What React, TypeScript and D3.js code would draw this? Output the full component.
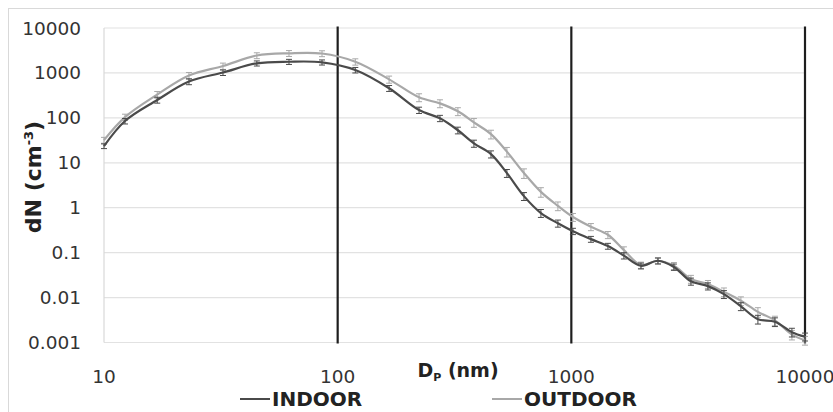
import React, { useEffect, useRef } from 'react';
import * as d3 from 'd3';

// particle diameter (nm)
const diameters = [10, 12.3, 16.9, 23.1, 32.3, 45.1, 61.9, 85.7, 119, 166, 223, 274, 327, 383, 453, 530, 627, 741, 876, 1016, 1213, 1434, 1679, 1986, 2348, 2748, 3250, 3842, 4498, 5317, 6288, 7434, 8790, 10000];

// number concentration dN (cm-3)
const indoor = [23.5, 85, 250, 643, 1020, 1637, 1775, 1722, 1161, 456, 149, 98, 53, 27, 15.6, 5.9, 1.81, 0.76, 0.45, 0.3, 0.2, 0.14, 0.086, 0.051, 0.066, 0.048, 0.023, 0.018, 0.0119, 0.0064, 0.0033, 0.0029, 0.0017, 0.00135];
const outdoor = [32, 104, 330, 875, 1425, 2440, 2735, 2705, 1775, 720, 286, 210, 140, 79, 43.5, 17.7, 5.9, 2.25, 1.1, 0.62, 0.376, 0.25, 0.114, 0.053, 0.066, 0.051, 0.026, 0.02, 0.0134, 0.0085, 0.0048, 0.0031, 0.0015, 0.00112];

// relative error (fraction of value)
const indoorErr = [0.12, 0.14, 0.15, 0.15, 0.14, 0.13, 0.13, 0.13, 0.14, 0.15, 0.16, 0.16, 0.17, 0.18, 0.18, 0.2, 0.2, 0.2, 0.18, 0.16, 0.15, 0.15, 0.16, 0.15, 0.15, 0.16, 0.18, 0.18, 0.2, 0.2, 0.22, 0.22, 0.22, 0.2];
const outdoorErr = [0.15, 0.16, 0.17, 0.17, 0.16, 0.15, 0.15, 0.15, 0.16, 0.18, 0.2, 0.2, 0.2, 0.22, 0.22, 0.24, 0.24, 0.24, 0.22, 0.2, 0.18, 0.18, 0.18, 0.16, 0.16, 0.18, 0.2, 0.2, 0.22, 0.22, 0.24, 0.24, 0.24, 0.22];

const yTicks = [10000, 1000, 100, 10, 1, 0.1, 0.01, 0.001];
const yTickLabels = ['10000', '1000', '100', '10', '1', '0.1', '0.01', '0.001'];
const xTicks = [10, 100, 1000, 10000];
const xTickLabels = ['10', '100', '1000', '10000'];
const markerLines = [100, 1000, 10000];

const seriesNames = ['INDOOR', 'OUTDOOR'];
const seriesColors = ['#4a4a4a', '#a8a8a8'];

export default function App() {
  const chartRef = useRef<SVGSVGElement>(null);

  useEffect(() => {
    const width = 833;
    const height = 412;
    const left = 104;
    const right = 805;
    const top = 28;
    const bottom = 342.5;

    const svg = d3.select(chartRef.current);
    svg.selectAll('*').remove();

    svg.append('rect')
      .attr('width', width)
      .attr('height', height)
      .attr('fill', '#fff');

    // outer chart border (right and bottom fall off the picture)
    svg.append('rect')
      .attr('x', 8.5)
      .attr('y', 8.5)
      .attr('width', 840)
      .attr('height', 420)
      .attr('fill', 'none')
      .attr('stroke', '#d9d9d9');

    const x = d3.scaleLog().domain([10, 10000]).range([left, right]);
    const y = d3.scaleLog().domain([0.001, 10000]).range([bottom, top]);

    // horizontal gridlines
    svg.append('g')
      .selectAll('line')
      .data(yTicks)
      .enter()
      .append('line')
      .attr('x1', left)
      .attr('x2', right)
      .attr('y1', d => y(d))
      .attr('y2', d => y(d))
      .attr('stroke', '#e2e2e2')
      .attr('stroke-width', 1.2);

    // y axis line
    svg.append('line')
      .attr('x1', left)
      .attr('x2', left)
      .attr('y1', top)
      .attr('y2', bottom)
      .attr('stroke', '#d9d9d9')
      .attr('stroke-width', 1.2);

    // y tick labels
    svg.append('g')
      .selectAll('text')
      .data(yTicks)
      .enter()
      .append('text')
      .attr('x', 81)
      .attr('y', d => y(d) + 6.5)
      .attr('text-anchor', 'end')
      .style('font-family', 'DejaVu Sans')
      .style('font-size', '18.5px')
      .attr('fill', '#333')
      .text((d, i) => yTickLabels[i]);

    // x tick labels
    svg.append('g')
      .selectAll('text')
      .data(xTicks)
      .enter()
      .append('text')
      .attr('x', d => x(d))
      .attr('y', 383)
      .attr('text-anchor', 'middle')
      .style('font-family', 'DejaVu Sans')
      .style('font-size', '18.5px')
      .attr('fill', '#333')
      .text((d, i) => xTickLabels[i]);

    // black vertical reference lines
    svg.append('g')
      .selectAll('line')
      .data(markerLines)
      .enter()
      .append('line')
      .attr('x1', d => x(d))
      .attr('x2', d => x(d))
      .attr('y1', top - 1.5)
      .attr('y2', bottom + 1)
      .attr('stroke', '#1e1e1e')
      .attr('stroke-width', 2.2);

    const series = [
      { values: indoor, err: indoorErr },
      { values: outdoor, err: outdoorErr }
    ];

    const line = d3.line<number>()
      .x((d, i) => x(diameters[i]))
      .y(d => y(d))
      .curve(d3.curveCatmullRom.alpha(0.5));

    // draw outdoor first so indoor sits on top
    [1, 0].forEach(s => {
      const { values, err } = series[s];
      const color = seriesColors[s];
      const g = svg.append('g');

      g.append('path')
        .datum(values)
        .attr('d', line)
        .attr('fill', 'none')
        .attr('stroke', color)
        .attr('stroke-width', 2.2);

      const bars = g.selectAll('g.err')
        .data(values)
        .enter()
        .append('g')
        .attr('class', 'err');

      bars.append('line')
        .attr('x1', (d, i) => x(diameters[i]))
        .attr('x2', (d, i) => x(diameters[i]))
        .attr('y1', (d, i) => y(d * (1 + err[i])))
        .attr('y2', (d, i) => y(d * (1 - err[i])))
        .attr('stroke', color)
        .attr('stroke-width', 1);

      [1, -1].forEach(sign => {
        bars.append('line')
          .attr('x1', (d, i) => x(diameters[i]) - 3)
          .attr('x2', (d, i) => x(diameters[i]) + 3)
          .attr('y1', (d, i) => y(d * (1 + sign * err[i])))
          .attr('y2', (d, i) => y(d * (1 + sign * err[i])))
          .attr('stroke', color)
          .attr('stroke-width', 1);
      });
    });

    // x axis title
    const xTitle = svg.append('text')
      .attr('x', 458)
      .attr('y', 377)
      .attr('text-anchor', 'middle')
      .style('font-family', 'DejaVu Sans')
      .style('font-weight', 'bold')
      .style('font-size', '19px')
      .attr('fill', '#222');
    xTitle.append('tspan').text('D');
    xTitle.append('tspan')
      .attr('dy', 4)
      .style('font-size', '11px')
      .text('P');
    xTitle.append('tspan')
      .attr('dy', -4)
      .text(' (nm)');

    // y axis title
    const yTitle = svg.append('text')
      .attr('transform', 'translate(41, 177) rotate(-90)')
      .attr('text-anchor', 'middle')
      .style('font-family', 'DejaVu Sans')
      .style('font-weight', 'bold')
      .style('font-size', '22px')
      .attr('fill', '#222');
    yTitle.append('tspan').text('dN (cm');
    yTitle.append('tspan')
      .attr('dy', -8)
      .style('font-size', '13px')
      .text('-3');
    yTitle.append('tspan')
      .attr('dy', 8)
      .text(')');

    // legend
    const legendX = [240, 492];
    const legend = svg.selectAll('.legend')
      .data(seriesNames)
      .enter()
      .append('g')
      .attr('class', 'legend')
      .attr('transform', (d, i) => `translate(${legendX[i]}, 399)`);

    legend.append('line')
      .attr('x1', 0)
      .attr('x2', 30)
      .attr('stroke', (d, i) => seriesColors[i])
      .attr('stroke-width', 2);

    legend.append('text')
      .attr('x', 32)
      .attr('y', 7)
      .style('font-family', 'DejaVu Sans')
      .style('font-weight', 'bold')
      .style('font-size', '20px')
      .attr('fill', '#222')
      .text(d => d);
  }, []);

  return (
    <svg
      ref={chartRef}
      width={833}
      height={412}
      style={{ position: 'absolute', left: 0, top: 0 }}
    />
  );
}
